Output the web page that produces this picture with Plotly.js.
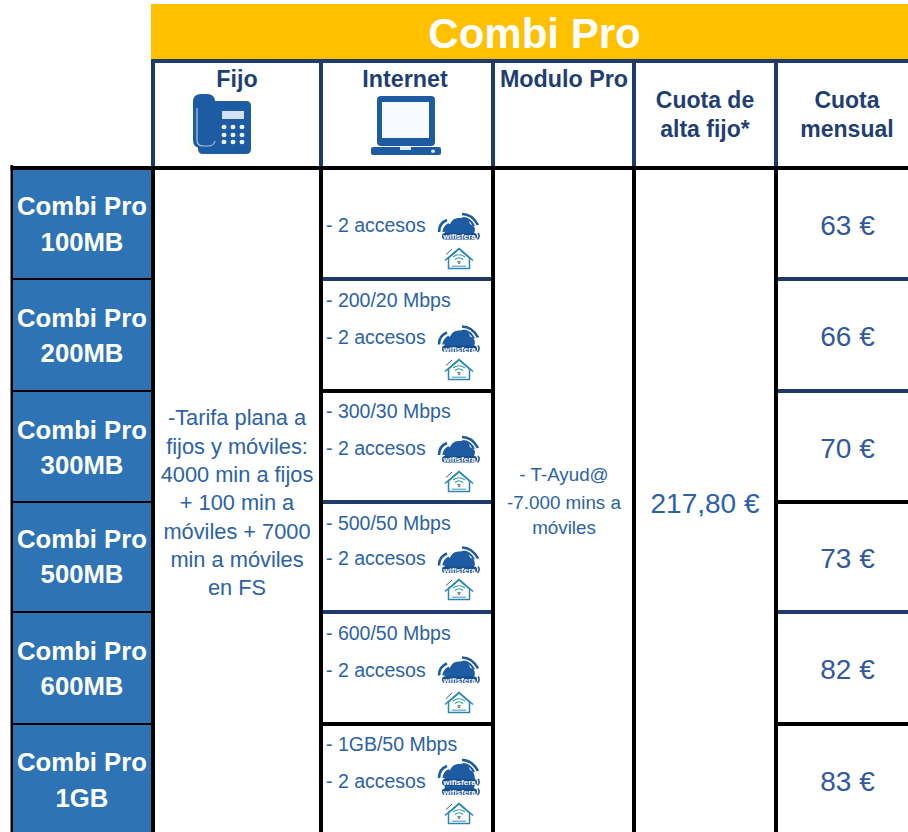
<!DOCTYPE html>
<html><head><meta charset="utf-8">
<script src="https://cdn.plot.ly/plotly-3.0.1.min.js"></script>
<style>html,body{margin:0;padding:0;background:#fff}#c{width:908px;height:832px}</style>
</head><body><div id="c"></div>
<script>
// ---- table content ----
const title = 'Combi Pro';
const planNames = ['Combi Pro','Combi Pro','Combi Pro','Combi Pro','Combi Pro','Combi Pro'];
const planSizes = ['100MB','200MB','300MB','500MB','600MB','1GB'];
const speeds = ['', '- 200/20 Mbps','- 300/30 Mbps','- 500/50 Mbps','- 600/50 Mbps','- 1GB/50 Mbps'];
const accessText = ['- 2 accesos','- 2 accesos','- 2 accesos','- 2 accesos','- 2 accesos','- 2 accesos'];
const monthlyFees = ['63 €','66 €','70 €','73 €','82 €','83 €'];
const fijoLines = ['-Tarifa plana a','fijos y móviles:','4000 min a fijos','+ 100 min a','móviles + 7000','min a móviles','en FS'];
const moduloLines = ['- T-Ayud@','-7.000 mins a','móviles'];
const altaFee = '217,80 €';
const headSingle = ['Fijo','Internet','Modulo Pro'];
const headCuotaAlta = ['Cuota de','alta fijo*'];
const headCuotaMes = ['Cuota','mensual'];
const wifiLabel = 'wifisfera';

// ---- grid geometry (pixel scale of the axes) ----
const W = 908, H = 832;
const colEdges = [153, 321, 493, 634, 776];
const rowEdges = [168, 279, 391, 502, 612, 724];
const NAVY = '#1F3B6C', BLACK = '#000000', GOLD = '#FFC000', BLUE = '#2E74B5';
const INK = '#2B62A8', HEAD = '#1F3F73', PRICE = '#33599C', ICON = '#1D5BA3';
const internetLineCol = [NAVY, BLACK, NAVY, NAVY, BLACK];
const mensualLineCol = [NAVY, NAVY, BLACK, NAVY, BLACK];

const planY1 = [206, 318, 430, 539, 651, 762];
const planY2 = [242, 353, 465, 574, 686, 798];
const speedY = [null, 300, 411, 523, 633, 744];
const accessY = [225, 337, 448, 558, 670, 781];
const cloudY = [227, 339.5, 450, 560.5, 670.5, 773];
const houseY = [258, 369, 481, 589, 702, 813];
const feeY = [225, 336, 448, 558, 669, 781];
const fijoY = [417, 446, 474, 502, 531, 559, 587];
const moduloY = [474, 502, 527];

const shapes = [];
const rect = (x0, y0, x1, y1, c) => shapes.push({type:'rect', xref:'x', yref:'y', x0, y0, x1, y1,
  fillcolor:c, line:{width:0}, layer:'below'});
const shift = (d, ox, oy) => d.replace(/(-?[\d.]+),(-?[\d.]+)/g, (m, a, b) => (+a + ox) + ',' + (+b + oy));
const path = (d, ox, oy, fill, lc, lw) => shapes.push({type:'path', xref:'x', yref:'y', path:shift(d, ox, oy),
  fillcolor:fill || 'rgba(0,0,0,0)', line:{color:lc || 'rgba(0,0,0,0)', width:lw || 0}, layer:'below'});
const rr = (x0, y0, x1, y1, r) => `M${x0+r},${y0} L${x1-r},${y0} Q${x1},${y0} ${x1},${y0+r} L${x1},${y1-r} Q${x1},${y1} ${x1-r},${y1} L${x0+r},${y1} Q${x0},${y1} ${x0},${y1-r} L${x0},${y0+r} Q${x0},${y0} ${x0+r},${y0} Z`;

// bands
rect(151, 4, W, 59, GOLD);
rect(151, 59, W, 63, NAVY);
rect(13, 170, 151, H, BLUE);
// horizontal rules
rowEdges.slice(1).forEach((y, i) => {
  rect(13, y - 1, 151, y + 1, BLACK);
  rect(323, y - 2, 491, y + 2, internetLineCol[i]);
  rect(778, y - 2, W, y + 2, mensualLineCol[i]);
});
// header verticals
colEdges.forEach(x => rect(x - 2, 59, x + 2, 166, NAVY));
rect(10.5, 165, 13, H, BLACK);
rect(10.5, 166, W, 170, BLACK);
colEdges.forEach(x => rect(x - 2, 166, x + 2, H, BLACK));

// phone icon
rect(187, 94, 257, 155, '#FFFDF6');
path(rr(198, 101, 251, 154, 5), 0, 0, ICON);
path(rr(193, 94, 215, 148, 8), 0, 0, ICON);
path('M197,108 L197,140 Q197,146 203,146 L208,146 Q214,146 215,141', 0, 0, null, '#A9C8E8', 1.2);
rect(222, 111, 244, 119, '#D3E2F2');
[224, 233, 242].forEach(x => [127, 135, 142].forEach(y =>
  shapes.push({type:'circle', xref:'x', yref:'y', x0:x-2.5, x1:x+2.5, y0:y-2.3, y1:y+2.3, fillcolor:'#EAF2FA', line:{width:0}, layer:'below'})));

// laptop icon
rect(371, 96, 441, 155, '#FFFEFA');
path(rr(377, 96, 435, 146, 4), 0, 0, ICON);
rect(382, 102, 429, 138, '#F7FBFF');
path(rr(371, 147, 441, 155, 2), 0, 0, ICON);
rect(400, 147, 411, 150, '#DCE8F4');
shapes.push({type:'circle', xref:'x', yref:'y', x0:431, x1:435, y0:149.5, y1:153, fillcolor:'#DCE8F4', line:{width:0}, layer:'below'});

// wifisfera cloud, optionally with a second label pill underneath
function cloud(ox, oy, twin) {
  const low = twin ? 16 : 7;
  path(`M-14,${low} Q-17,-1 -9,-3 Q-6,-10 1,-9 Q9,-11 11,-3 Q18,-1 15,${low} Z`, ox, oy, ICON);
  path(rr(-17, 6, 18, 12.5, 3), ox, oy, '#174E8F');
  if (twin) path(rr(-17, 15.5, 18, 22, 3), ox, oy, '#174E8F');
  [['M-20,5 Q-20,-4 -12,-7', 2.6], ['M-15.5,5 Q-15,0 -10,-3', 2.2],
   ['M3,-13 Q13,-13 19,-2', 2.6], ['M4,-9 Q11,-9 15,-1', 2.2],
   ['M19,6 Q21.5,9 18.5,12.5', 1.6]].forEach(a => path(a[0], ox, oy, null, ICON, a[1]));
  if (twin) path('M19,15.5 Q21.5,19 18.5,22', ox, oy, null, ICON, 1.6);
}
// house with wifi
function house(ox, oy) {
  path('M-10.5,0 L-10.5,10.5 L10.5,10.5 L10.5,0 L0,-9 Z', ox, oy, '#FFFFFF', '#2C86B2', 1.5);
  path('M-14,2.5 L0,-9.5 L14,2.5', ox, oy, null, '#2C86B2', 1.6);
  path('M-6,-1 Q0,-5.5 6,-1', ox, oy, null, '#2FA39A', 1.2);
  path('M-4,1.5 Q0,-2 4,1.5', ox, oy, null, '#2FA39A', 1.2);
  path('M-2,4 Q0,2.5 2,4', ox, oy, null, '#2FA39A', 1);
  rect(ox - 0.8, oy + 4.3, ox + 0.8, oy + 6, '#C9302C');
  rect(ox - 7, oy + 7.6, ox + 7, oy + 8.8, '#5BA6C8');
  path('M-13,-3.5 L-7,-9', ox, oy, null, '#3A5E86', 1);
}
const cloudX = 459;
accessY.forEach((_, i) => {
  cloud(cloudX, cloudY[i], i === 5);
  house(cloudX, houseY[i]);
});

// ---- text traces ----
const traces = [];
function txt(xs, ys, labels, size, color, bold, pos) {
  const off = Math.min(3, size * 0.12);
  traces.push({type:'scatter', mode:'text', x:xs, y:ys.map(y => y + off), text:labels, textposition:pos || 'middle center',
    textfont:{family:'"Liberation Sans", Arial, sans-serif', size, color, weight: bold ? 700 : 400},
    hoverinfo:'skip', cliponaxis:false, showlegend:false});
}
const rep = (v, n) => Array(n).fill(v);
txt([534.5], [34], [title], 42, '#FFFFFF', true);
txt([237, 405, 564], [78, 78, 78], headSingle, 23.3, HEAD, true);
txt([705, 705], [99, 128], headCuotaAlta, 23, HEAD, true);
txt([847, 847], [99, 128], headCuotaMes, 23, HEAD, true);
txt(rep(82, 6), planY1, planNames, 25.7, '#FFFFFF', true);
txt(rep(82, 6), planY2, planSizes, 25.7, '#FFFFFF', true);
txt(rep(237, 7), fijoY, fijoLines, 21.8, INK, false);
txt(rep(564, 3), moduloY, moduloLines, 18.8, INK, false);
txt([705], [503], [altaFee], 28, INK, false);
txt(rep(847.5, 6), feeY, monthlyFees, 28, PRICE, false);
txt(rep(326, 5), speedY.slice(1), speeds.slice(1), 19.5, INK, false, 'middle right');
txt(rep(326, 6), accessY, accessText, 19.5, INK, false, 'middle right');
const wx = [], wy = [], wl = [];
cloudY.forEach((y, i) => {
  wx.push(cloudX + 0.5); wy.push(y + 9.2); wl.push(wifiLabel);
  if (i === 5) { wx.push(cloudX + 0.5); wy.push(y + 18.7); wl.push(wifiLabel); }
});
txt(wx, wy, wl, 8, '#FFFFFF', true);

const axis = r => ({range:r, visible:false, fixedrange:true, showgrid:false, zeroline:false});
Plotly.newPlot('c', traces, {
  width:W, height:H, margin:{l:0, r:0, t:0, b:0}, paper_bgcolor:'#fff', plot_bgcolor:'#fff',
  showlegend:false, xaxis:axis([0, W]), yaxis:axis([H, 0]), shapes
}, {staticPlot:true, displayModeBar:false});
</script></body></html>
